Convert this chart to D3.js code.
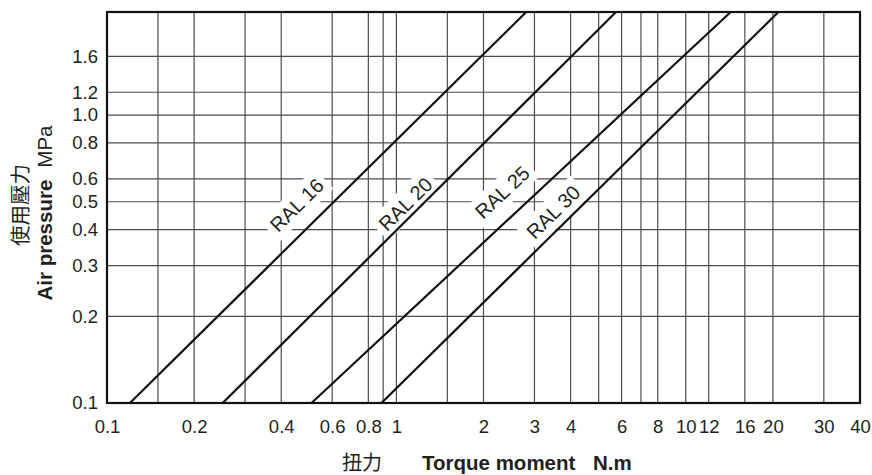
<!DOCTYPE html>
<html>
<head>
<meta charset="utf-8">
<script src="https://cdn.jsdelivr.net/npm/d3@7"></script>
<style>
  body { margin: 0; background: #fff; }
  svg { display: block; font-family: "Liberation Sans", Arial, "Noto Sans CJK TC", sans-serif; }
</style>
</head>
<body>
<div id="chart"></div>
<script>
// tick values and their printed labels
const xTicks = [0.1, 0.2, 0.4, 0.6, 0.8, 1, 2, 3, 4, 6, 8, 10, 12, 16, 20, 30, 40];
const xTickLabels = ["0.1", "0.2", "0.4", "0.6", "0.8", "1", "2", "3", "4", "6", "8", "10", "12", "16", "20", "30", "40"];
const xGrid = [0.15, 0.2, 0.3, 0.4, 0.6, 0.8, 0.9, 1, 1.5, 2, 3, 4, 5, 6, 7, 8, 10, 12, 16, 20, 30];

const yTicks = [0.1, 0.2, 0.3, 0.4, 0.5, 0.6, 0.8, 1.0, 1.2, 1.6];
const yTickLabels = ["0.1", "0.2", "0.3", "0.4", "0.5", "0.6", "0.8", "1.0", "1.2", "1.6"];
const yGrid = [0.2, 0.3, 0.4, 0.5, 0.6, 0.8, 1.0, 1.2, 1.6];

// each cylinder line: torque at the lowest and highest pressure of the chart
const seriesNames = ["RAL 16", "RAL 20", "RAL 25", "RAL 30"];
const pressureRange = [0.1, 2.28];
const torqueAtLow = [0.12, 0.251, 0.509, 0.888];
const torqueAtHigh = [2.81, 5.74, 14.3, 20.9];

// where the line names sit (centre of text)
const labelTorque = [0.452, 1.074, 2.32, 3.48];
const labelPressure = [0.487, 0.491, 0.540, 0.461];

const width = 872, height = 475;
const plot = { left: 107, right: 860, top: 12, bottom: 403 };
const ink = "#231f20";

const svg = d3.select("#chart").append("svg")
  .attr("width", width)
  .attr("height", height);

svg.append("rect").attr("width", width).attr("height", height).attr("fill", "#fff");

const x = d3.scaleLog().domain([0.1, 40]).range([plot.left, plot.right]);
const y = d3.scaleLog().domain(pressureRange).range([plot.bottom, plot.top]);

// grid
svg.append("g").selectAll("line")
  .data(xGrid)
  .join("line")
  .attr("x1", d => x(d)).attr("x2", d => x(d))
  .attr("y1", plot.top).attr("y2", plot.bottom)
  .attr("stroke", "#4d4d4d")
  .attr("stroke-width", 1.2);

svg.append("g").selectAll("line")
  .data(yGrid)
  .join("line")
  .attr("x1", plot.left).attr("x2", plot.right)
  .attr("y1", d => y(d)).attr("y2", d => y(d))
  .attr("stroke", "#4d4d4d")
  .attr("stroke-width", 1.2);

// line data
const series = seriesNames.map((name, i) => ({
  name,
  points: [[torqueAtLow[i], pressureRange[0]], [torqueAtHigh[i], pressureRange[1]]],
  label: [labelTorque[i], labelPressure[i]]
}));

// labels with white backing, drawn before the lines so only grid gets hidden
const labels = svg.append("g").selectAll("g")
  .data(series)
  .join("g")
  .attr("transform", d => {
    const p0 = d.points[0], p1 = d.points[1];
    const ang = Math.atan2(y(p1[1]) - y(p0[1]), x(p1[0]) - x(p0[0])) * 180 / Math.PI;
    return `translate(${x(d.label[0])},${y(d.label[1])}) rotate(${ang})`;
  });

labels.append("text")
  .attr("text-anchor", "middle")
  .attr("dy", "0.36em")
  .attr("font-size", 20)
  .attr("fill", ink)
  .text(d => d.name);

labels.each(function () {
  const g = d3.select(this);
  const bb = g.select("text").node().getBBox();
  g.insert("rect", "text")
    .attr("x", bb.x - 5)
    .attr("y", bb.y - 3)
    .attr("width", bb.width + 10)
    .attr("height", bb.height + 6)
    .attr("fill", "#fff");
});

const line = d3.line().x(d => x(d[0])).y(d => y(d[1]));

svg.append("g").selectAll("path")
  .data(series)
  .join("path")
  .attr("d", d => line(d.points))
  .attr("fill", "none")
  .attr("stroke", "#111")
  .attr("stroke-width", 2.2);

// frame
svg.append("rect")
  .attr("x", plot.left).attr("y", plot.top)
  .attr("width", plot.right - plot.left)
  .attr("height", plot.bottom - plot.top)
  .attr("fill", "none")
  .attr("stroke", "#111")
  .attr("stroke-width", 2.2);

// axes (labels only)
const xAxis = svg.append("g")
  .attr("transform", `translate(0,${plot.bottom})`)
  .call(d3.axisBottom(x)
    .tickValues(xTicks)
    .tickSize(0)
    .tickPadding(17)
    .tickFormat((d, i) => xTickLabels[i]));

const yAxis = svg.append("g")
  .attr("transform", `translate(${plot.left},0)`)
  .call(d3.axisLeft(y)
    .tickValues(yTicks)
    .tickSize(0)
    .tickPadding(9)
    .tickFormat((d, i) => yTickLabels[i]));

[xAxis, yAxis].forEach(a => {
  a.select(".domain").remove();
  a.selectAll("text")
    .attr("font-size", 18.5)
    .attr("font-family", "'Liberation Sans', Arial, sans-serif")
    .attr("fill", ink);
});

// axis titles
const xTitle = svg.append("text")
  .attr("y", 470)
  .attr("fill", ink)
  .attr("font-size", 20.5);
xTitle.append("tspan")
  .attr("x", 342)
  .attr("font-family", "'Noto Sans CJK TC', sans-serif")
  .attr("font-size", 20)
  .text("扭力");
xTitle.append("tspan")
  .attr("x", 422)
  .attr("font-weight", "bold")
  .text("Torque moment");
xTitle.append("tspan")
  .attr("x", 593)
  .attr("font-weight", "bold")
  .text("N.m");

svg.append("text")
  .attr("transform", "translate(28,205) rotate(-90)")
  .attr("text-anchor", "middle")
  .attr("font-family", "'Noto Sans CJK TC', sans-serif")
  .attr("font-size", 20.5)
  .attr("fill", ink)
  .text("使用壓力");

const yTitle = svg.append("text")
  .attr("transform", "translate(52,213) rotate(-90)")
  .attr("text-anchor", "middle")
  .attr("font-size", 20.5)
  .attr("fill", ink);
yTitle.append("tspan").attr("font-weight", "bold").text("Air pressure");
yTitle.append("tspan").attr("dx", 12).text("MPa");
</script>
</body>
</html>
